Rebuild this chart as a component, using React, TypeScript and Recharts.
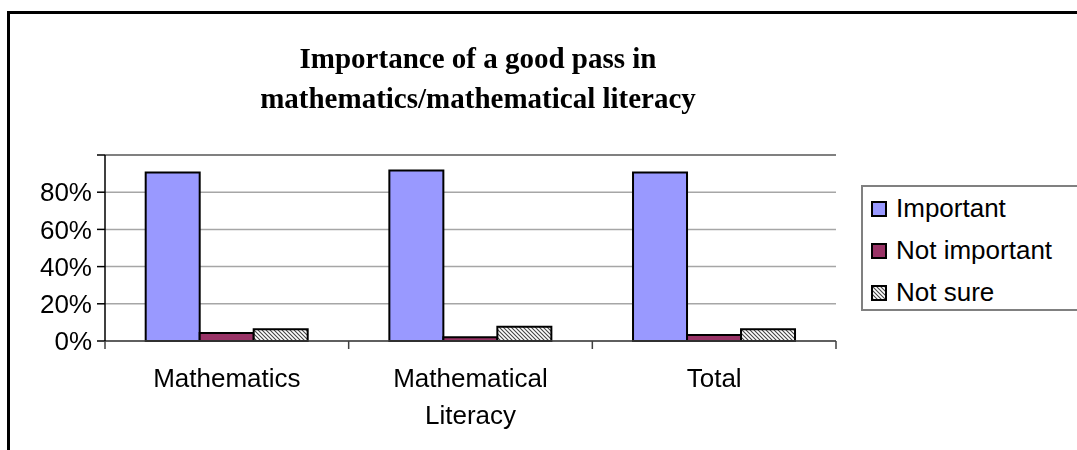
import React from 'react';
import {
  BarChart, Bar, XAxis, YAxis, CartesianGrid, ReferenceLine,
} from 'recharts';

const categories = ['Mathematics', 'Mathematical Literacy', 'Total'];
const important = [90.6, 91.7, 90.6];
const notImportant = [4.3, 2.0, 3.2];
const notSure = [6.3, 7.6, 6.3];
const yTicks = [0, 20, 40, 60, 80, 100];
const seriesNames = ['Important', 'Not important', 'Not sure'];
const titleLines = ['Importance of a good pass in', 'mathematics/mathematical literacy'];

const data = categories.map((c, i) => ({
  category: c,
  important: important[i],
  notImportant: notImportant[i],
  notSure: notSure[i],
}));

const SANS = '"Liberation Sans", Arial, sans-serif';
const SERIF = '"Liberation Serif", "Times New Roman", serif';
const X_TICK_GAP = 28;
const fills = ['#9999FF', '#993366', 'url(#hatch)'];

function XTick(props: any) {
  const { x, y, payload, index, visibleTicksCount } = props;
  const half = payload.offset || 0;
  const axisY = y - X_TICK_GAP;
  const lines = String(payload.value).split(' ');
  return (
    <g>
      <line x1={x - half} x2={x - half} y1={axisY} y2={axisY + 8} stroke="#404040" strokeWidth={1.5} />
      {index === visibleTicksCount - 1 && (
        <line x1={x + half} x2={x + half} y1={axisY} y2={axisY + 8} stroke="#404040" strokeWidth={1.5} />
      )}
      <text x={x} y={y} textAnchor="middle" fontSize={26} fontFamily={SANS} fill="#000">
        {lines.map((l, i) => (
          <tspan key={i} x={x} dy={i === 0 ? '0.71em' : 37}>
            {l}
          </tspan>
        ))}
      </text>
    </g>
  );
}

function Swatch({ fill }: { fill: string }) {
  return (
    <svg width={16} height={16} style={{ verticalAlign: 'baseline', marginRight: 9, overflow: 'visible' }}>
      <rect x={1} y={1} width={14} height={14} fill={fill} stroke="#000" strokeWidth={2} />
    </svg>
  );
}

function LegendBox() {
  return (
    <div
      style={{
        position: 'fixed',
        left: 861,
        top: 185,
        borderTop: '2px solid #808080',
        borderBottom: '2px solid #808080',
        borderLeft: '2px solid #808080',
        boxSizing: 'border-box',
        width: 216,
        height: 126,
        background: '#fff',
        fontFamily: SANS,
        fontSize: 26,
        lineHeight: '42px',
        color: '#000',
        textAlign: 'left',
        overflow: 'hidden',
      }}
    >
      {seriesNames.map((n, i) => (
        <div key={n} style={{ whiteSpace: 'nowrap', paddingLeft: 8 }}>
          <Swatch fill={fills[i]} />
          {n}
        </div>
      ))}
    </div>
  );
}

export default function App() {
  return (
    <div style={{ position: 'relative', width: 1069, height: 434, background: '#fff' }}>
      <div
        style={{
          position: 'fixed',
          left: 7,
          top: 11,
          width: 2000,
          height: 1000,
          borderLeft: '3px solid #000',
          borderTop: '3px solid #000',
          pointerEvents: 'none',
        }}
      />
      <div
        style={{
          position: 'absolute',
          left: 0,
          top: 30,
          width: 940,
          textAlign: 'center',
          fontFamily: SERIF,
          fontWeight: 'bold',
          fontSize: 29,
          lineHeight: '40px',
          color: '#000',
        }}
      >
        {titleLines.map((t) => (
          <div key={t}>{t}</div>
        ))}
      </div>
      <div style={{ position: 'absolute', left: 0, top: 0 }}>
        <BarChart
          width={1069}
          height={434}
          data={data}
          margin={{ top: 147, right: 241, left: 0, bottom: 0 }}
          barCategoryGap="16.7%"
          barGap={0}
        >
          <defs>
            <pattern id="hatch" patternUnits="userSpaceOnUse" width={4} height={4}>
              <rect width={4} height={4} fill="#fff" />
              <path d="M-1,-1 L5,5 M3,-1 L5,1 M-1,3 L1,5" stroke="#444" strokeWidth={1.1} />
            </pattern>
          </defs>
          <CartesianGrid horizontal vertical={false} stroke="#a6a6a6" strokeWidth={1.5} />
          <XAxis
            dataKey="category"
            height={101}
            tickLine={false}
            tickSize={0}
            tickMargin={X_TICK_GAP}
            axisLine={{ stroke: '#404040', strokeWidth: 1.5 }}
            tick={<XTick />}
            interval={0}
          />
          <YAxis
            width={97}
            domain={[0, 100]}
            ticks={yTicks}
            interval={0}
            tickSize={8}
            tickMargin={5}
            tickFormatter={(v: number) => (v === 100 ? '' : `${v}%`)}
            tick={{ fontSize: 26, fontFamily: SANS, fill: '#000' }}
            axisLine={{ stroke: '#000', strokeWidth: 1.5 }}
            tickLine={{ stroke: '#000', strokeWidth: 1.5 }}
          />
          <YAxis
            yAxisId="r"
            orientation="right"
            width={0}
            domain={[0, 100]}
            tick={false}
            tickLine={false}
            axisLine={{ stroke: '#a6a6a6', strokeWidth: 1.5 }}
          />
          <ReferenceLine y={100} stroke="#808080" strokeWidth={2} />
          <Bar dataKey="important" name={seriesNames[0]} fill={fills[0]} stroke="#000" strokeWidth={2} isAnimationActive={false} />
          <Bar dataKey="notImportant" name={seriesNames[1]} fill={fills[1]} stroke="#000" strokeWidth={2} isAnimationActive={false} />
          <Bar dataKey="notSure" name={seriesNames[2]} fill={fills[2]} stroke="#000" strokeWidth={2} isAnimationActive={false} />
        </BarChart>
      </div>
      <LegendBox />
    </div>
  );
}
